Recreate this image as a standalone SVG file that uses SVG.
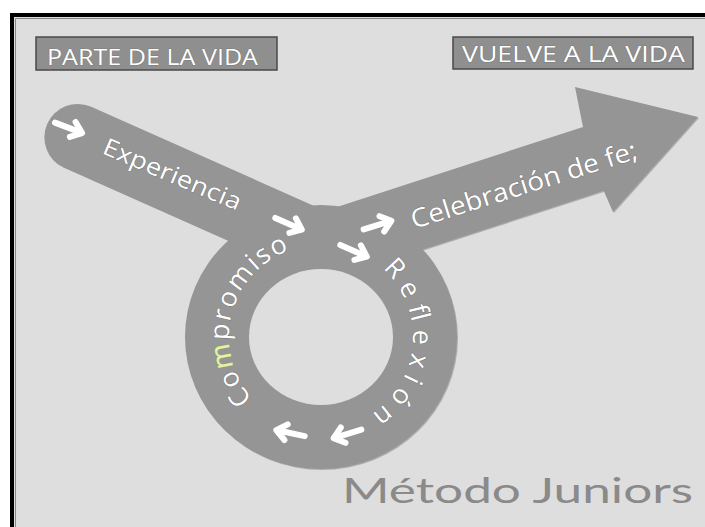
<svg xmlns="http://www.w3.org/2000/svg" width="705" height="527" viewBox="0 0 705 527">
<style>
.shape{fill:#959595}
.shadow{fill:#adadad}
.lbl{font-family:"Open Sans","DejaVu Sans",sans-serif;fill:#ffffff;stroke:#6e6e6e;stroke-width:0.7;paint-order:stroke}
.ring{font-size:27px;letter-spacing:1.8px}
.box{fill:#8f8f8f;stroke:#4a4a4a;stroke-width:1.5}
.warr{fill:none;stroke:#ffffff;stroke-width:6;stroke-linecap:round;stroke-linejoin:round}
</style>
<defs>
<g id="wa"><path class="warr" d="M-15 0 H13 M4 -8 L14 0 L4 8"/></g>
<path id="arcC" d="M 252.6 398.6 A 92 92 0 0 1 289.5 250.5" fill="none"/>
<path id="arcR" d="M 382.6 268.6 A 92 92 0 0 1 369.8 415.0" fill="none"/>
</defs>
<rect x="0" y="0" width="705" height="527" fill="#ffffff"/>
<rect x="12" y="15" width="700" height="520" fill="#dedede"/>
<path d="M12 527 V15 H705" fill="none" stroke="#000" stroke-width="4"/>
<path d="M15.5 527 V18.5 H705" fill="none" stroke="#888" stroke-width="1"/>

<g id="shape">
<path class="shadow" d="M 327.2 211.4 L 584 128 L 576 88 L 699 118 L 614 213 L 604.7 191.7 L 347.9 275.1 Z"/>
<ellipse class="shadow" cx="322" cy="338" rx="136" ry="132"/>
<path class="shape" d="M 90.6 106.4 L 328.2 212.2 L 301 273.4 L 63.4 167.6 A 33.5 33.5 0 0 1 90.6 106.4 Z"/>
<path class="shape" d="M 326.2 210.4 L 583 127 L 575 87 L 698 117 L 613 212 L 603.7 190.7 L 346.9 274.1 Z"/>
<ellipse class="shape" cx="321" cy="337" rx="136" ry="132"/>
<ellipse cx="321" cy="337" rx="72" ry="68" fill="#dedede"/>
</g>

<g id="node-parte">
<rect class="box" x="36" y="37" width="241" height="33"/>
<text class="lbl" x="47" y="65" font-size="22" textLength="211" lengthAdjust="spacingAndGlyphs">PARTE DE LA VIDA</text>
</g>
<g id="node-vuelve">
<rect class="box" x="453" y="37" width="240" height="32"/>
<text class="lbl" x="462" y="62" font-size="22" textLength="223" lengthAdjust="spacingAndGlyphs">VUELVE A LA VIDA</text>
</g>

<g id="node-experiencia">
<text class="lbl" font-size="24" transform="translate(101,153) rotate(23)" textLength="148" lengthAdjust="spacingAndGlyphs">Experiencia</text>
</g>
<g id="node-celebracion">
<text class="lbl" font-size="26" transform="translate(414,229) rotate(-17.5)" textLength="236" lengthAdjust="spacingAndGlyphs">Celebración de fe;</text>
</g>
<g id="node-compromiso">
<text class="lbl ring"><textPath href="#arcC">Co</textPath></text>
<text class="lbl ring" fill="#e6f2a8" stroke="#b8cc62" style="fill:#e6f2a8;stroke:#b8cc62"><textPath href="#arcC" startOffset="37">m</textPath></text>
<text class="lbl ring"><textPath href="#arcC" startOffset="64">promiso</textPath></text>
</g>
<g id="node-reflexion">
<text class="lbl" font-size="27"><textPath href="#arcR" textLength="168" lengthAdjust="spacing">Reflexión</textPath></text>
</g>

<g id="connectors">
<use href="#wa" transform="translate(69,128) rotate(21)"/>
<use href="#wa" transform="translate(289,224) rotate(24)"/>
<use href="#wa" transform="translate(354,251) rotate(24)"/>
<use href="#wa" transform="translate(378,225) rotate(-17)"/>
<use href="#wa" transform="translate(347,434) rotate(163)"/>
<use href="#wa" transform="translate(290,433) rotate(192)"/>
</g>

<g id="node-title">
<text x="342" y="503" font-family="Lato,'Open Sans',sans-serif" font-size="35" fill="#8a8a8a" textLength="351" lengthAdjust="spacingAndGlyphs">Método Juniors</text>
</g>
</svg>
